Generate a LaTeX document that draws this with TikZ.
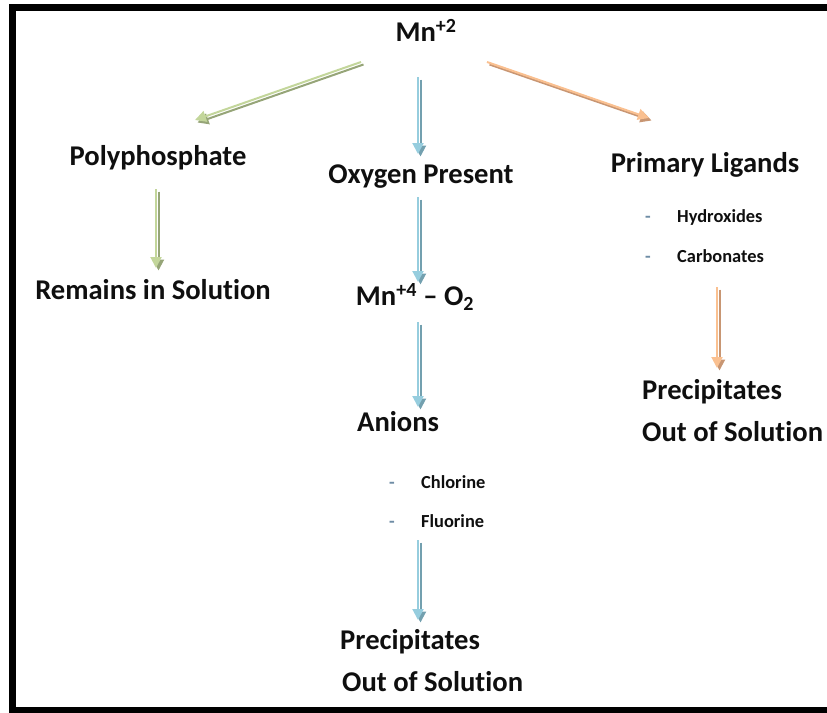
\documentclass[tikz,border=0pt]{standalone}
\usepackage{fontspec}
\setmainfont[Ligatures=NoCommon]{Carlito}
\usetikzlibrary{arrows.meta}
\definecolor{gLight}{RGB}{195,214,155}
\definecolor{gDark}{RGB}{150,165,120}
\definecolor{bLight}{RGB}{150,205,222}
\definecolor{bDark}{RGB}{115,160,175}
\definecolor{oLight}{RGB}{250,192,144}
\definecolor{oDark}{RGB}{200,150,115}
\definecolor{dashc}{RGB}{110,140,165}
\definecolor{txt}{RGB}{15,15,15}
\tikzset{
  big/.style={font=\fontsize{28.6}{34}\selectfont\bfseries, inner sep=0pt, text=txt},
  small/.style={font=\fontsize{18.4}{22}\selectfont\bfseries, inner sep=0pt, text=txt, anchor=base west},
  bullet/.style={font=\fontsize{18.4}{22}\selectfont\bfseries, inner sep=0pt, text=dashc, anchor=base},
  flow/.style={line width=2pt, -{Triangle[length=11pt,width=11pt]}},
  frame/.style={line width=7pt, draw=black}
}
\newcommand\flowarrow[3]{%
  \draw[flow, #1Dark, transform canvas={xshift=2.5pt,yshift=-2.5pt}] (#2) -- (#3);
  \draw[flow, #1Light] (#2) -- (#3);}
\begin{document}
\begin{tikzpicture}[x=1pt,y=-1pt]
\useasboundingbox (0,0) rectangle (827,712);
\draw[frame] (12.5,7) rectangle (840,710.5);

% nodes
\node[big] (mn2) at (426,30) {Mn\textsuperscript{+2}};
\node[big] (poly) at (158,158) {Polyphosphate};
\node[big] (oxy) at (421,177) {Oxygen Present};
\node[big] (prim) at (705,165) {Primary Ligands};
\node[bullet] (hydd) at (648,222) {-};
\node[small] (hyd) at (677,222) {Hydroxides};
\node[bullet] (carbd) at (648,262) {-};
\node[small] (carb) at (677,262) {Carbonates};
\node[big] (rem) at (153,290) {Remains in Solution};
\node[big] (mn4) at (415,297) {Mn\textsuperscript{+4} – O\textsubscript{2}};
\node[big, anchor=west] (prec1) at (642,392) {Precipitates};
\node[big, anchor=west] (out1) at (642,432) {Out of Solution};
\node[big, anchor=west] (an) at (357,422) {Anions};
\node[bullet] (chld) at (392,488) {-};
\node[small] (chl) at (421,488) {Chlorine};
\node[bullet] (fld) at (392,527) {-};
\node[small] (fl) at (421,527) {Fluorine};
\node[big, anchor=west] (prec2) at (340,642) {Precipitates};
\node[big, anchor=west] (out2) at (342,682) {Out of Solution};

% arrow end points
\coordinate (g1s) at (361,62);
\coordinate (g1e) at (195,120);
\coordinate (g2s) at (156,189);
\coordinate (g2e) at (156,268);
\coordinate (b1s) at (418,77);
\coordinate (b1e) at (418,154);
\coordinate (b2s) at (418,197);
\coordinate (b2e) at (418,282);
\coordinate (b3s) at (418,322);
\coordinate (b3e) at (418,407);
\coordinate (b4s) at (418,540);
\coordinate (b4e) at (418,620);
\coordinate (o1s) at (487,62);
\coordinate (o1e) at (649,118);
\coordinate (o2s) at (717,287);
\coordinate (o2e) at (717,368);

\flowarrow{g}{g1s}{g1e}
\flowarrow{g}{g2s}{g2e}
\flowarrow{b}{b1s}{b1e}
\flowarrow{b}{b2s}{b2e}
\flowarrow{b}{b3s}{b3e}
\flowarrow{b}{b4s}{b4e}
\flowarrow{o}{o1s}{o1e}
\flowarrow{o}{o2s}{o2e}
\end{tikzpicture}
\end{document}
